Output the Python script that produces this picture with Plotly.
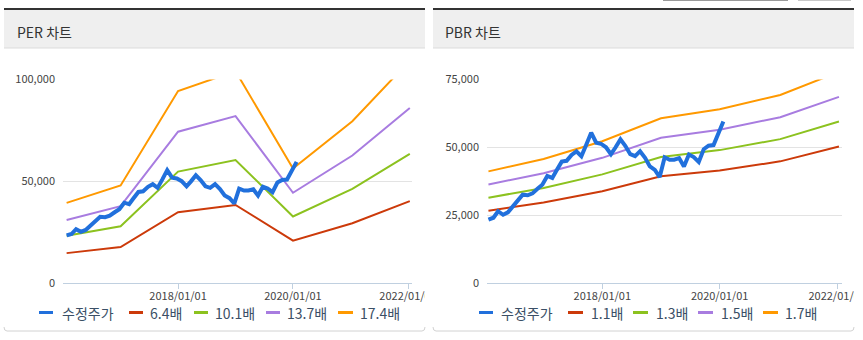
import plotly.graph_objects as go

W, H = 863, 340

# ---------------- data ----------------
price_name = "수정주가"
price_dates = [
    "2016-01-24", "2016-02-24", "2016-03-24", "2016-04-24", "2016-05-24", "2016-06-24",
    "2016-07-24", "2016-08-24", "2016-09-24", "2016-10-24", "2016-11-24", "2016-12-24",
    "2017-01-24", "2017-02-24", "2017-03-24", "2017-04-24", "2017-05-24", "2017-06-24",
    "2017-07-24", "2017-08-24", "2017-09-24", "2017-10-24", "2017-11-24", "2017-12-24",
    "2018-01-24", "2018-02-24", "2018-03-24", "2018-04-24", "2018-05-24", "2018-06-24",
    "2018-07-24", "2018-08-24", "2018-09-24", "2018-10-24", "2018-11-24", "2018-12-24",
    "2019-01-24", "2019-02-24", "2019-03-24", "2019-04-24", "2019-05-24", "2019-06-24",
    "2019-07-24", "2019-08-24", "2019-09-24", "2019-10-24", "2019-11-24", "2019-12-24",
    "2020-01-24",
]
price = [
    23300, 24000, 26400, 25100, 26000, 28200, 30600, 32500, 32300, 33000,
    34700, 36200, 39400, 38700, 41600, 44700, 45000, 47200, 48500, 46700,
    51000, 55400, 51700, 51300, 50000, 47450, 49900, 52900, 50550, 47450,
    46700, 48550, 46100, 42950, 41650, 39000, 46300, 45400, 45400, 46000,
    42900, 47300, 46400, 44600, 49300, 50600, 50800, 55400, 59500,
]

band_dates = ["2016-01-24", "2017-01-01", "2018-01-01", "2019-01-01",
              "2020-01-01", "2021-01-12", "2022-01-12"]

per_names = ["6.4배", "10.1배", "13.7배", "17.4배"]
per_64 = [14600, 17600, 34700, 38300, 20700, 29300, 40200]
per_101 = [23100, 27800, 54700, 60400, 32600, 46200, 63400]
per_137 = [30900, 37700, 74300, 82000, 44300, 62600, 86000]
per_174 = [39300, 47900, 94300, 104100, 56200, 79500, 109300]

pbr_names = ["1.1배", "1.3배", "1.5배", "1.7배"]
pbr_11 = [26600, 29600, 33800, 39300, 41400, 44800, 50300]
pbr_13 = [31400, 35000, 40000, 46400, 48950, 53000, 59500]
pbr_15 = [36300, 40400, 46100, 53500, 56500, 61100, 68600]
pbr_17 = [41100, 45700, 52200, 60700, 64000, 69300, 77800]

x_tickvals = ["2018-01-01", "2020-01-01", "2022-01-01"]
x_ticktext = ["2018/01/01", "2020/01/01", "2022/01/01"]
per_yticks = [0, 50000, 100000]
pbr_yticks = [0, 25000, 50000, 75000]

# ---------------- styles ----------------
BLUE = "#2170dc"
BAND_COLORS = ["#cc3a0a", "#8cc21f", "#a87ce0", "#ff9900"]
FONT = "Noto Sans CJK KR, Noto Sans, sans-serif"
AXIS_COL = "#c0d0e0"
GRID_COL = "#e3e3e3"
LABEL_COL = "#444444"
LEGEND_COL = "#3b4f66"


def px(x):
    return x / W


def py(y):
    return 1 - y / H


fig = go.Figure()

for names, series, xa, ya in [
    (per_names, [per_64, per_101, per_137, per_174], "x", "y"),
    (pbr_names, [pbr_11, pbr_13, pbr_15, pbr_17], "x2", "y2"),
]:
    for name, vals, col in zip(names, series, BAND_COLORS):
        fig.add_trace(go.Scatter(
            x=band_dates, y=vals, mode="lines", name=name,
            line=dict(color=col, width=2),
            xaxis=xa, yaxis=ya, showlegend=False, hoverinfo="skip"))
    fig.add_trace(go.Scatter(
        x=price_dates, y=price, mode="lines", name=price_name,
        line=dict(color=BLUE, width=4),
        xaxis=xa, yaxis=ya, showlegend=False, hoverinfo="skip"))

ydom = [py(282.8), py(79.5)]
xaxis_common = dict(
    type="date", tickvals=x_tickvals, ticktext=x_ticktext,
    ticks="outside", ticklen=5, tickcolor=AXIS_COL, tickwidth=1,
    showline=True, linecolor=AXIS_COL, linewidth=1, showgrid=False,
    zeroline=False, tickfont=dict(family=FONT, size=11, color=LABEL_COL),
    ticklabeloverflow="allow", ticklabelstandoff=-2,
    fixedrange=True, automargin=False,
)
yaxis_common = dict(
    showgrid=True, gridcolor=GRID_COL, gridwidth=1, zeroline=False,
    showline=False, ticks="", tickformat=",",
    tickfont=dict(family=FONT, size=11, color=LABEL_COL),
    ticklabelstandoff=7, fixedrange=True, automargin=False,
)

fig.update_layout(
    width=W, height=H, margin=dict(l=0, r=0, t=0, b=0, autoexpand=False),
    paper_bgcolor="white", plot_bgcolor="white",
    showlegend=False,
    xaxis=dict(domain=[px(63), px(412)], range=["2016-01-01", "2022-01-26"],
               anchor="y", **xaxis_common),
    yaxis=dict(domain=ydom, range=[0, 100000], tickvals=per_yticks,
               anchor="x", **yaxis_common),
    xaxis2=dict(domain=[px(487), px(842)], range=["2016-01-15", "2022-01-31"],
                anchor="y2", **xaxis_common),
    yaxis2=dict(domain=ydom, range=[0, 75000], tickvals=pbr_yticks,
                anchor="x2", **yaxis_common),
)

shapes = []
annotations = []


def rect(x0, y0, x1, y1, color, layer="below"):
    shapes.append(dict(type="rect", xref="paper", yref="paper",
                       x0=px(x0), x1=px(x1), y0=py(y1), y1=py(y0),
                       fillcolor=color, line=dict(width=0), layer=layer))


def text(x, y, s, size, color, anchor="left"):
    annotations.append(dict(text=s, x=px(x), y=py(y), xref="paper", yref="paper",
                            xanchor=anchor, yanchor="middle", showarrow=False,
                            borderpad=0, borderwidth=0,
                            font=dict(family=FONT, size=size, color=color)))


panels = [
    dict(x0=4, x1=425, title="PER 차트", tx=17,
         leg_sym=[(39, 53), (129, 143), (194, 208), (266, 280), (338, 353)],
         leg_txt=[62, 150, 215, 287, 360], names=[price_name] + per_names),
    dict(x0=433, x1=854, title="PBR 차트", tx=445,
         leg_sym=[(479, 493), (568, 583), (633, 648), (698, 713), (763, 778)],
         leg_txt=[501, 591, 656, 721, 785], names=[price_name] + pbr_names),
]

for p in panels:
    x0, x1 = p["x0"], p["x1"]
    rect(x0, 10, x1, 48, "#efefef")
    rect(x0, 8, x1, 10, "#333333")
    rect(x0, 47.5, x1, 48.5, "#dcdcdc")
    text(p["tx"], 31.5, p["title"], 14, "#333333")
    r = 3
    path = (f"M{px(x0)},{py(327)} Q{px(x0)},{py(331)} {px(x0 + r)},{py(331)} "
            f"L{px(x1 - r)},{py(331)} Q{px(x1)},{py(331)} {px(x1)},{py(327)}")
    shapes.append(dict(type="path", xref="paper", yref="paper", path=path,
                       line=dict(color="#d2d2d2", width=1), layer="below"))
    cols = [BLUE] + BAND_COLORS
    for (s0, s1), tx, name, col in zip(p["leg_sym"], p["leg_txt"], p["names"], cols):
        rect(s0, 311, s1, 314, col, layer="above")
        text(tx, 313, name, 14, LEGEND_COL)

# clip overflowing tick labels at panel edges
rect(425, 286, 448, 302, "white", layer="above")
rect(854, 286, 863, 302, "white", layer="above")

# partially visible buttons at the top right
rect(663, 0, 788, 1, "#9a9a9a")
rect(798, 0, 851, 1, "#c8c8c8")

fig.update_layout(shapes=shapes, annotations=annotations)

fig.write_html("out.html")
